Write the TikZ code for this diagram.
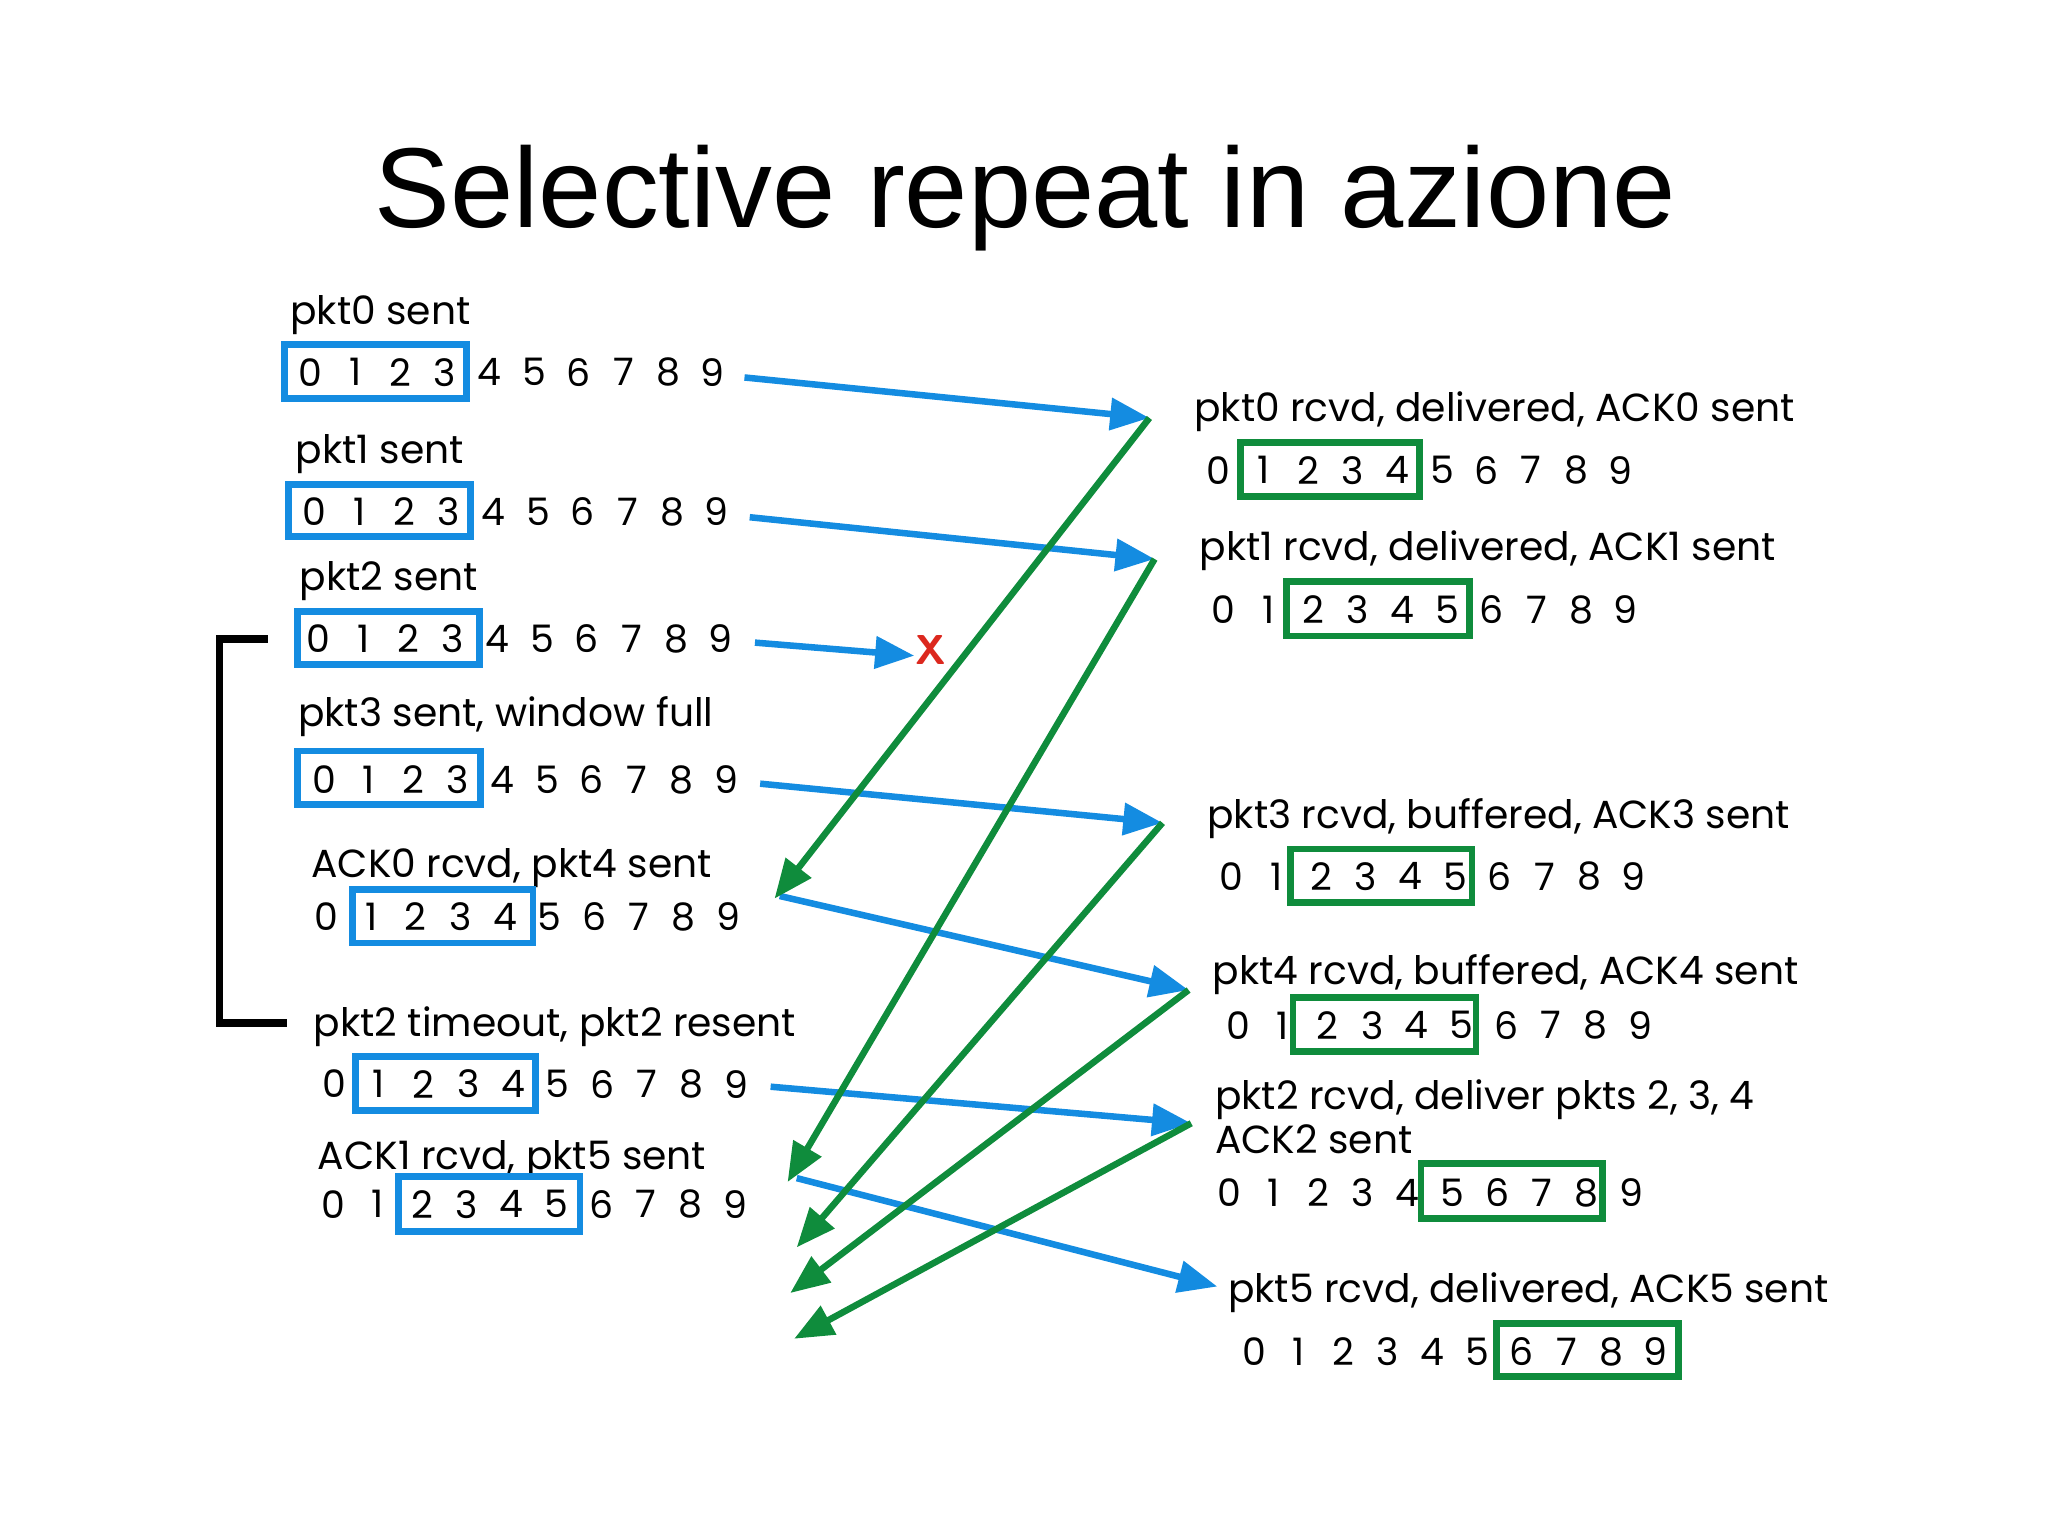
\documentclass[tikz,border=0pt]{standalone}
\usepackage{fontspec}
\setmainfont{Poppins}
\newfontfamily\titlefont{Liberation Sans}
\usetikzlibrary{arrows.meta}
\definecolor{sblue}{RGB}{20,140,225}
\definecolor{sgreen}{RGB}{15,140,60}
\definecolor{sred}{RGB}{220,40,30}
\begin{document}
\begin{tikzpicture}[x=0.5pt,y=-0.5pt,
  lbl/.style={anchor=west,inner sep=0pt,font=\fontsize{15}{16}\selectfont},
  dig/.style={inner sep=0pt,font=\fontsize{14.5}{16}\selectfont},
  bwin/.style={draw=sblue,line width=2.6pt},
  gwin/.style={draw=sgreen,line width=2.6pt},
  barr/.style={draw=sblue,line width=2.5pt,-{Triangle[length=15pt,width=12pt]}},
  garr/.style={draw=sgreen,line width=2.5pt,-{Triangle[length=15pt,width=12pt]}}]
\useasboundingbox (0,0) rectangle (1568,1176);
\node[font=\titlefont\fontsize{43.5}{48}\selectfont] (title) at (785,152) {Selective repeat in azione};
\newcommand{\digrow}[3]{\foreach \i in {0,...,9}{\node[dig] (#1\i) at ({#2+34.2*\i},#3) {\i};}}
% sender rows
\node[lbl] (l1) at (222,241) {pkt0 sent};
\digrow{a}{238}{285}
\draw[bwin] (218,264) rectangle (357,305);
\node[lbl] (l2) at (226,348) {pkt1 sent};
\digrow{b}{241}{392}
\draw[bwin] (221,371) rectangle (360,411);
\node[lbl] (l3) at (229,445) {pkt2 sent};
\digrow{c}{244}{489}
\draw[bwin] (228,468) rectangle (367,509);
\node[lbl] (l4) at (228,549) {pkt3 sent, window full};
\digrow{d}{248}{597}
\draw[bwin] (228,575) rectangle (368,616);
\node[lbl] (l5) at (238,665) {ACK0 rcvd, pkt4 sent};
\digrow{e}{250}{702}
\draw[bwin] (270,681) rectangle (408,722);
\node[lbl] (l6) at (240,786) {pkt2 timeout, pkt2 resent};
\digrow{f}{256}{830}
\draw[bwin] (272,809) rectangle (410,850);
\node[lbl] (l7) at (243,888) {ACK1 rcvd, pkt5 sent};
\digrow{g}{255}{922}
\draw[bwin] (305,901) rectangle (444,943);
% receiver rows
\node[lbl] (r1) at (914,315) {pkt0 rcvd, delivered, ACK0 sent};
\digrow{p}{933}{360}
\draw[gwin] (950,339) rectangle (1087,380);
\node[lbl] (r2) at (918,422) {pkt1 rcvd, delivered, ACK1 sent};
\digrow{q}{937}{467}
\draw[gwin] (985,445) rectangle (1125,487);
\node[lbl] (r3) at (924,627) {pkt3 rcvd, buffered, ACK3 sent};
\digrow{s}{943}{671}
\draw[gwin] (988,650) rectangle (1127,691);
\node[lbl] (r4) at (928,746) {pkt4 rcvd, buffered, ACK4 sent};
\digrow{t}{948}{785}
\draw[gwin] (990,764) rectangle (1130,805);
\node[lbl] (r5) at (930,842) {pkt2 rcvd, deliver pkts 2, 3, 4};
\node[lbl] (r5b) at (930,872) {ACK2 sent};
\digrow{u}{941}{913}
\draw[gwin] (1088,891) rectangle (1227,933);
\node[lbl] (r6) at (940,990) {pkt5 rcvd, delivered, ACK5 sent};
\digrow{v}{960}{1035}
\draw[gwin] (1146,1013) rectangle (1285,1054);
% bracket
\coordinate (k1) at (205,489); \coordinate (k2) at (168,489);
\coordinate (k3) at (168,783); \coordinate (k4) at (220,783);
\draw[line width=3pt] (k1) -- (k2) -- (k3) -- (k4);
% arrow endpoints
\coordinate (s1) at (570,289); \coordinate (e1) at (880,320);
\coordinate (s2) at (574,396); \coordinate (e2) at (884,428);
\coordinate (s3) at (578,492); \coordinate (e3) at (700,502);
\coordinate (s4) at (582,600); \coordinate (e4) at (890,630);
\coordinate (s5) at (597,686); \coordinate (e5) at (910,758);
\coordinate (s6) at (590,832); \coordinate (e6) at (912,860);
\coordinate (s7) at (610,902); \coordinate (e7) at (932,985);
\coordinate (g1) at (593,688); \coordinate (g2) at (603,905);
\coordinate (g3) at (610,955); \coordinate (g4) at (605,990);
\coordinate (g5) at (608,1025);
\draw[barr] (s1) -- (e1);
\draw[barr] (s2) -- (e2);
\draw[barr] (s3) -- (e3);
\draw[barr] (s4) -- (e4);
\draw[barr] (s5) -- (e5);
\draw[barr] (s6) -- (e6);
\draw[barr] (s7) -- (e7);
\node[text=sred,font=\fontsize{16}{18}\selectfont\bfseries\sffamily,inner sep=0pt] (x) at (713,498) {X};
\draw[garr] (e1) -- (g1);
\draw[garr] (e2) -- (g2);
\draw[garr] (e4) -- (g3);
\draw[garr] (e5) -- (g4);
\draw[garr] (e6) -- (g5);
\end{tikzpicture}
\end{document}
